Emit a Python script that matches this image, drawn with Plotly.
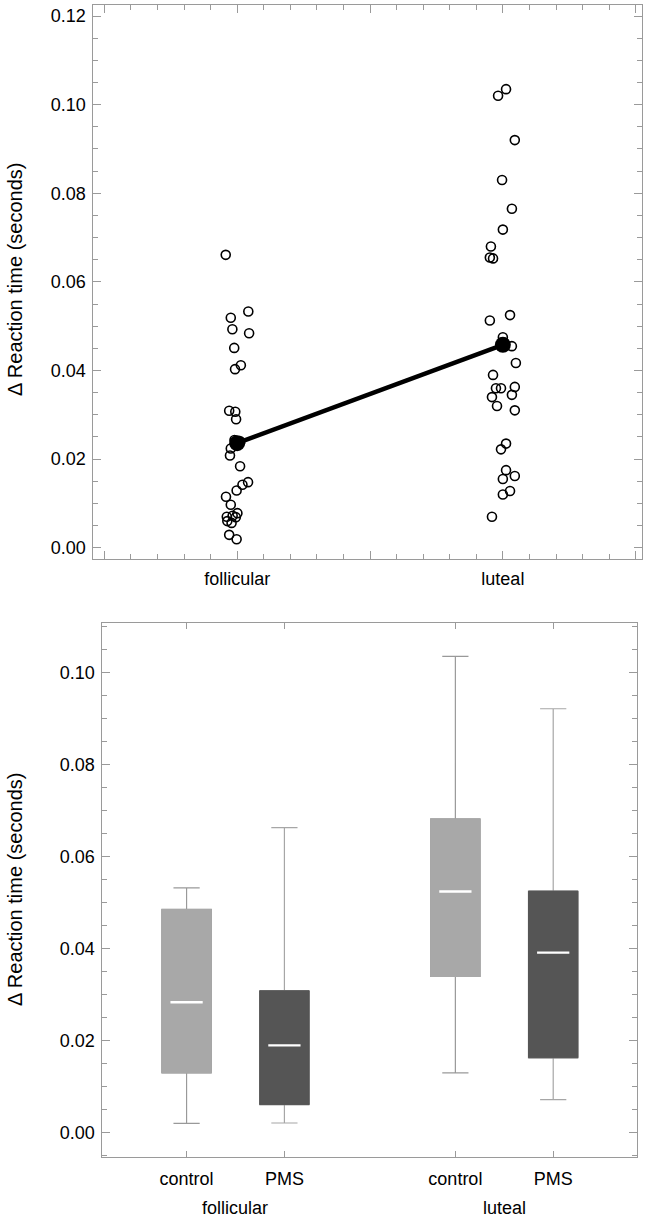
import plotly.graph_objects as go

# ---------------- data ----------------
phases = ["follicular", "luteal"]
phase_pos = [1, 2]

foll_values = [0.0661, 0.0533, 0.0519, 0.0493, 0.0484, 0.0451, 0.0412, 0.0403,
               0.0309, 0.0307, 0.0290, 0.0243, 0.0240, 0.0224, 0.0208, 0.0184,
               0.0148, 0.0142, 0.0129, 0.0115, 0.0097, 0.0078, 0.0072, 0.0070,
               0.0069, 0.0060, 0.0056, 0.0029, 0.0019]
foll_jitter = [-0.043, 0.042, -0.024, -0.018, 0.045, -0.011, 0.014, -0.008,
               -0.030, -0.007, -0.004, -0.010, 0.012, -0.024, -0.027, 0.011,
               0.041, 0.020, -0.002, -0.042, -0.024, 0.001, -0.017, -0.039,
               -0.005, -0.037, -0.021, -0.030, -0.002]

lut_values = [0.1035, 0.1020, 0.0920, 0.0830, 0.0765, 0.0718, 0.0680, 0.0655,
              0.0653, 0.0525, 0.0513, 0.0475, 0.0455, 0.0417, 0.0390, 0.0360,
              0.0360, 0.0363, 0.0340, 0.0345, 0.0320, 0.0310, 0.0235, 0.0222,
              0.0175, 0.0162, 0.0155, 0.0128, 0.0120, 0.0070]
lut_jitter = [0.012, -0.018, 0.045, -0.003, 0.034, 0.000, -0.045, -0.049,
              -0.037, 0.027, -0.049, 0.000, 0.034, 0.049, -0.037, -0.026,
              -0.007, 0.045, -0.041, 0.034, -0.022, 0.045, 0.012, -0.007,
              0.012, 0.045, 0.000, 0.027, 0.000, -0.041]

mean_values = [0.0236, 0.0458]

box_pos = [0.818, 1.182, 1.818, 2.182]
box_labels = ["control", "PMS", "control", "PMS"]
box_group = ["control", "PMS", "control", "PMS"]
lowerfence = [0.0019, 0.0020, 0.0129, 0.0071]
q1 = [0.0129, 0.0060, 0.0339, 0.0162]
median = [0.0283, 0.0189, 0.0524, 0.0391]
q3 = [0.0485, 0.0308, 0.0682, 0.0525]
upperfence = [0.0532, 0.0663, 0.1036, 0.0922]

fill_colors = {"control": "#a8a8a8", "PMS": "#555555"}
whisker_colors = {"control": "#999999", "PMS": "#a6a6a6"}

FONT = "Liberation Sans, Arial, Helvetica, sans-serif"
W, H = 652, 1219

fig = go.Figure()

# ---------------- top panel ----------------
for vals, jit, p in [(foll_values, foll_jitter, phase_pos[0]), (lut_values, lut_jitter, phase_pos[1])]:
    fig.add_trace(go.Scatter(
        x=[p + j for j in jit], y=vals,
        mode="markers", xaxis="x", yaxis="y",
        marker=dict(symbol="circle-open", size=9, color="black",
                    line=dict(width=1.6, color="black")),
        showlegend=False, hoverinfo="skip"))
fig.add_trace(go.Scatter(
    x=phase_pos, y=mean_values, mode="lines+markers", xaxis="x", yaxis="y",
    line=dict(color="black", width=4.5),
    marker=dict(size=16, color="black"),
    showlegend=False, hoverinfo="skip"))

# ---------------- bottom panel ----------------
for i in range(len(box_pos)):
    g = box_group[i]
    # whiskers
    fig.add_trace(go.Box(
        x=[box_pos[i]], q1=[q1[i]], median=[median[i]], q3=[q3[i]],
        lowerfence=[lowerfence[i]], upperfence=[upperfence[i]],
        width=0.184, whiskerwidth=0.53, xaxis="x2", yaxis="y2",
        fillcolor=fill_colors[g], line=dict(color=whisker_colors[g], width=1.2),
        showlegend=False, hoverinfo="skip", boxpoints=False))
    # box body
    fig.add_trace(go.Box(
        x=[box_pos[i]], q1=[q1[i]], median=[q1[i]], q3=[q3[i]],
        lowerfence=[q1[i]], upperfence=[q3[i]],
        width=0.184, whiskerwidth=0, xaxis="x2", yaxis="y2",
        fillcolor=fill_colors[g], line=dict(color=fill_colors[g], width=1),
        showlegend=False, hoverinfo="skip", boxpoints=False))
    # white median
    fig.add_trace(go.Box(
        x=[box_pos[i]], q1=[median[i]], median=[median[i]], q3=[median[i]],
        lowerfence=[median[i]], upperfence=[median[i]],
        width=0.12, whiskerwidth=0, xaxis="x2", yaxis="y2",
        fillcolor="white", line=dict(color="white", width=2.4),
        showlegend=False, hoverinfo="skip", boxpoints=False))

axis_common = dict(showline=True, linecolor="#9a9a9a", linewidth=1, mirror="ticks",
                   ticks="inside", tickcolor="#9a9a9a", tickwidth=1,
                   showgrid=False, zeroline=False, automargin=False,
                   tickfont=dict(family=FONT, size=18, color="black"))

fig.update_layout(
    width=W, height=H,
    margin=dict(l=0, r=0, t=0, b=0),
    paper_bgcolor="white", plot_bgcolor="white",
    boxmode="overlay",
    font=dict(family=FONT, color="black"),
    xaxis=dict(domain=[93.3 / W, 642.3 / W], anchor="y", range=[0.4586, 2.5248],
               tickvals=[0.5, 1, 1.5, 2, 2.5], ticktext=["", phases[0], "", phases[1], ""],
               ticklen=8, ticklabelstandoff=3,
               minor=dict(dtick=0.1, tick0=0.5, ticks="inside", ticklen=5, tickcolor="#9a9a9a"),
               **axis_common),
    yaxis=dict(domain=[1 - 559 / H, 1 - 5 / H], anchor="x", range=[-0.00255, 0.1225],
               tick0=0, dtick=0.02, tickformat=".2f", ticklen=8, ticklabelstandoff=3,
               minor=dict(dtick=0.005, tick0=0, ticks="inside", ticklen=5, tickcolor="#9a9a9a"),
               **axis_common),
    xaxis2=dict(domain=[102.3 / W, 636.7 / W], anchor="y2", range=[0.5045, 2.4926],
                tickvals=box_pos, ticktext=box_labels, ticklen=6, ticklabelstandoff=5,
                **axis_common),
    yaxis2=dict(domain=[1 - 1157 / H, 1 - 623.3 / H], anchor="x2", range=[-0.0054, 0.1108],
                tick0=0, dtick=0.02, tickformat=".2f", ticklen=8, ticklabelstandoff=3,
                minor=dict(dtick=0.005, tick0=0, ticks="inside", ticklen=5, tickcolor="#9a9a9a"),
                **axis_common),
    annotations=[
        dict(text="Δ Reaction time (seconds)", textangle=-90, xref="paper", yref="paper",
             x=15 / W, y=1 - 280 / H, xanchor="center", yanchor="middle", showarrow=False,
             font=dict(family=FONT, size=20, color="black")),
        dict(text="Δ Reaction time (seconds)", textangle=-90, xref="paper", yref="paper",
             x=15 / W, y=1 - 890 / H, xanchor="center", yanchor="middle", showarrow=False,
             font=dict(family=FONT, size=20, color="black")),
        dict(text=phases[0], xref="x2", yref="paper", x=phase_pos[0], y=1 - 1208 / H,
             xanchor="center", yanchor="middle", showarrow=False,
             font=dict(family=FONT, size=18, color="black")),
        dict(text=phases[1], xref="x2", yref="paper", x=phase_pos[1], y=1 - 1208 / H,
             xanchor="center", yanchor="middle", showarrow=False,
             font=dict(family=FONT, size=18, color="black")),
    ],
)

fig.write_html("out.html", config={"displayModeBar": False},
               post_script="document.body.style.margin='0';document.body.style.overflow='hidden';")
